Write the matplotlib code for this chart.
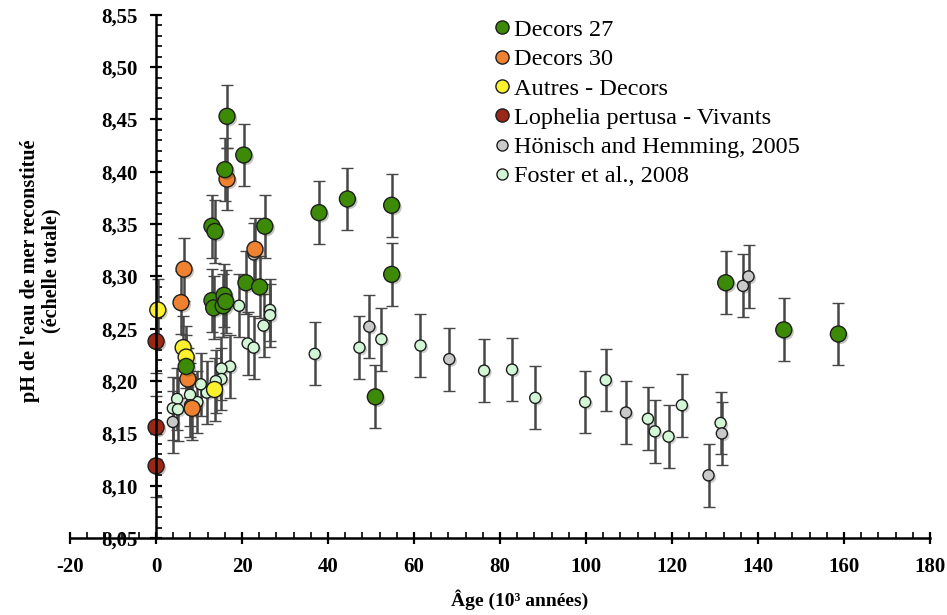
from matplotlib import pyplot as plt
from matplotlib.lines import Line2D
from matplotlib.ticker import MultipleLocator, FuncFormatter
import matplotlib.patheffects as pe

plt.rcParams['axes.unicode_minus'] = False

# Decors 27
d27_age = [16.5, 20.4, 16.0, 13.0, 13.7, 25.3, 20.9, 24.1, 13.0, 13.4, 15.8,
           15.6, 16.2, 7.0, 37.9, 44.5, 54.8, 54.8, 51.0, 132.5, 146.0, 158.7]
d27_ph = [8.453, 8.416, 8.402, 8.348, 8.343, 8.348, 8.294, 8.290, 8.277, 8.270, 8.282,
          8.272, 8.276, 8.214, 8.361, 8.374, 8.368, 8.302, 8.185, 8.294, 8.249, 8.245]

# Decors 30
d30_age = [16.5, 23.0, 6.5, 5.8, 7.4, 8.4]
d30_ph = [8.393, 8.326, 8.307, 8.275, 8.202, 8.174]

# Autres - Decors
aut_age = [0.4, 6.3, 7.0, 13.6]
aut_ph = [8.268, 8.232, 8.223, 8.192]

# Lophelia pertusa - Vivants
lop_age = [0.0, 0.0, 0.0]
lop_ph = [8.238, 8.156, 8.119]

# Hönisch and Hemming, 2005
hon_age = [22.7, 3.9, 49.6, 68.2, 109.3, 128.5, 131.6, 136.5, 137.8]
hon_ph = [8.321, 8.161, 8.252, 8.221, 8.170, 8.110, 8.150, 8.291, 8.300]

# Foster et al., 2008
fos_age = [19.3, 26.5, 26.5, 25.0, 21.3, 22.7, 17.2, 15.2, 15.2, 13.9, 11.8, 10.4,
           9.6, 7.9, 7.9, 4.9, 3.9, 5.1, 36.9, 47.3, 52.4, 61.5, 76.3, 82.8, 88.2,
           99.8, 104.6, 114.4, 116.0, 119.2, 122.3, 131.3]
fos_ph = [8.272, 8.268, 8.263, 8.253, 8.236, 8.232, 8.214, 8.212, 8.202, 8.200, 8.189, 8.197,
          8.180, 8.187, 8.177, 8.183, 8.174, 8.173, 8.226, 8.232, 8.240, 8.234, 8.210, 8.211, 8.184,
          8.180, 8.201, 8.164, 8.152, 8.147, 8.177, 8.160]

err = 0.03  # incertitude pH

series = [
    (fos_age, fos_ph, '#d3f7d6', 8, 'Foster et al., 2008'),
    (hon_age, hon_ph, '#c9c9c9', 8, 'Hönisch and Hemming, 2005'),
    (lop_age, lop_ph, '#9b2716', 11.5, 'Lophelia pertusa - Vivants'),
    (aut_age, aut_ph, '#fbf12c', 11.5, 'Autres - Decors'),
    (d30_age, d30_ph, '#ef8230', 11.5, 'Decors 30'),
    (d27_age, d27_ph, '#3d8a06', 11.5, 'Decors 27'),
]

fig = plt.figure(figsize=(9.47, 6.15), dpi=100)
ax = fig.add_axes([0.074, 0.125, 0.908, 0.851])

shadow = [pe.SimplePatchShadow(offset=(1.5, -1.5), alpha=0.25), pe.Normal()]
for x, y, c, ms, lab in series:
    line, caps, bars = ax.errorbar(x, y, yerr=err, fmt='o', color=c, ecolor='#474747',
                                   elinewidth=1.8, capsize=4.5, capthick=1.6, markersize=ms,
                                   markeredgecolor='#1e1e1e', markeredgewidth=1.0)
    line.set_path_effects(shadow)

ax.set_xlim(-20, 180)
ax.set_ylim(8.05, 8.55)
ax.spines['left'].set_position(('data', 0))
ax.spines['top'].set_visible(False)
ax.spines['right'].set_visible(False)
ax.spines['left'].set_linewidth(1.8)
ax.spines['bottom'].set_linewidth(1.8)

ax.xaxis.set_major_locator(MultipleLocator(20))
ax.xaxis.set_minor_locator(MultipleLocator(4))
ax.yaxis.set_major_locator(MultipleLocator(0.05))
ax.yaxis.set_minor_locator(MultipleLocator(0.01))
ax.yaxis.set_major_formatter(FuncFormatter(lambda v, p: f'{v:.2f}'.replace('.', ',')))

ax.tick_params(which='major', direction='inout', length=9, width=1.6)
ax.tick_params(which='minor', direction='in', length=4, width=1.2)
ax.tick_params(axis='x', pad=9)
ax.tick_params(axis='y', pad=9)
for lbl in ax.get_xticklabels() + ax.get_yticklabels():
    lbl.set_fontfamily('Liberation Serif')
    lbl.set_fontweight('bold')
    lbl.set_fontsize(15)

ax.set_xlabel('Âge (10³ années)', fontfamily='Liberation Serif', fontweight='bold',
              fontsize=14, labelpad=9)
ax.xaxis.label.set_x(0.523)
fig.text(0.043, 0.56, "pH de l'eau de mer reconstitué\n(échelle totale)",
         rotation=90, ha='center', va='center', fontfamily='Liberation Serif',
         fontweight='bold', fontsize=14.5, linespacing=1.15)

handles = [Line2D([], [], ls='none', marker='o', markersize=8 if s[3] < 10 else 9.5,
                  markerfacecolor=s[2], markeredgecolor='#1e1e1e', markeredgewidth=1.0)
           for s in series[::-1]]
labels = [s[4] for s in series[::-1]]
fig.legend(handles, labels, loc='upper left', bbox_to_anchor=(0.513, 0.985), frameon=False,
           prop={'family': 'Liberation Serif', 'size': 17.5}, handlelength=0.55,
           handletextpad=0.2, labelspacing=0.3, borderaxespad=0)

fig.savefig('out.png', dpi=100)
